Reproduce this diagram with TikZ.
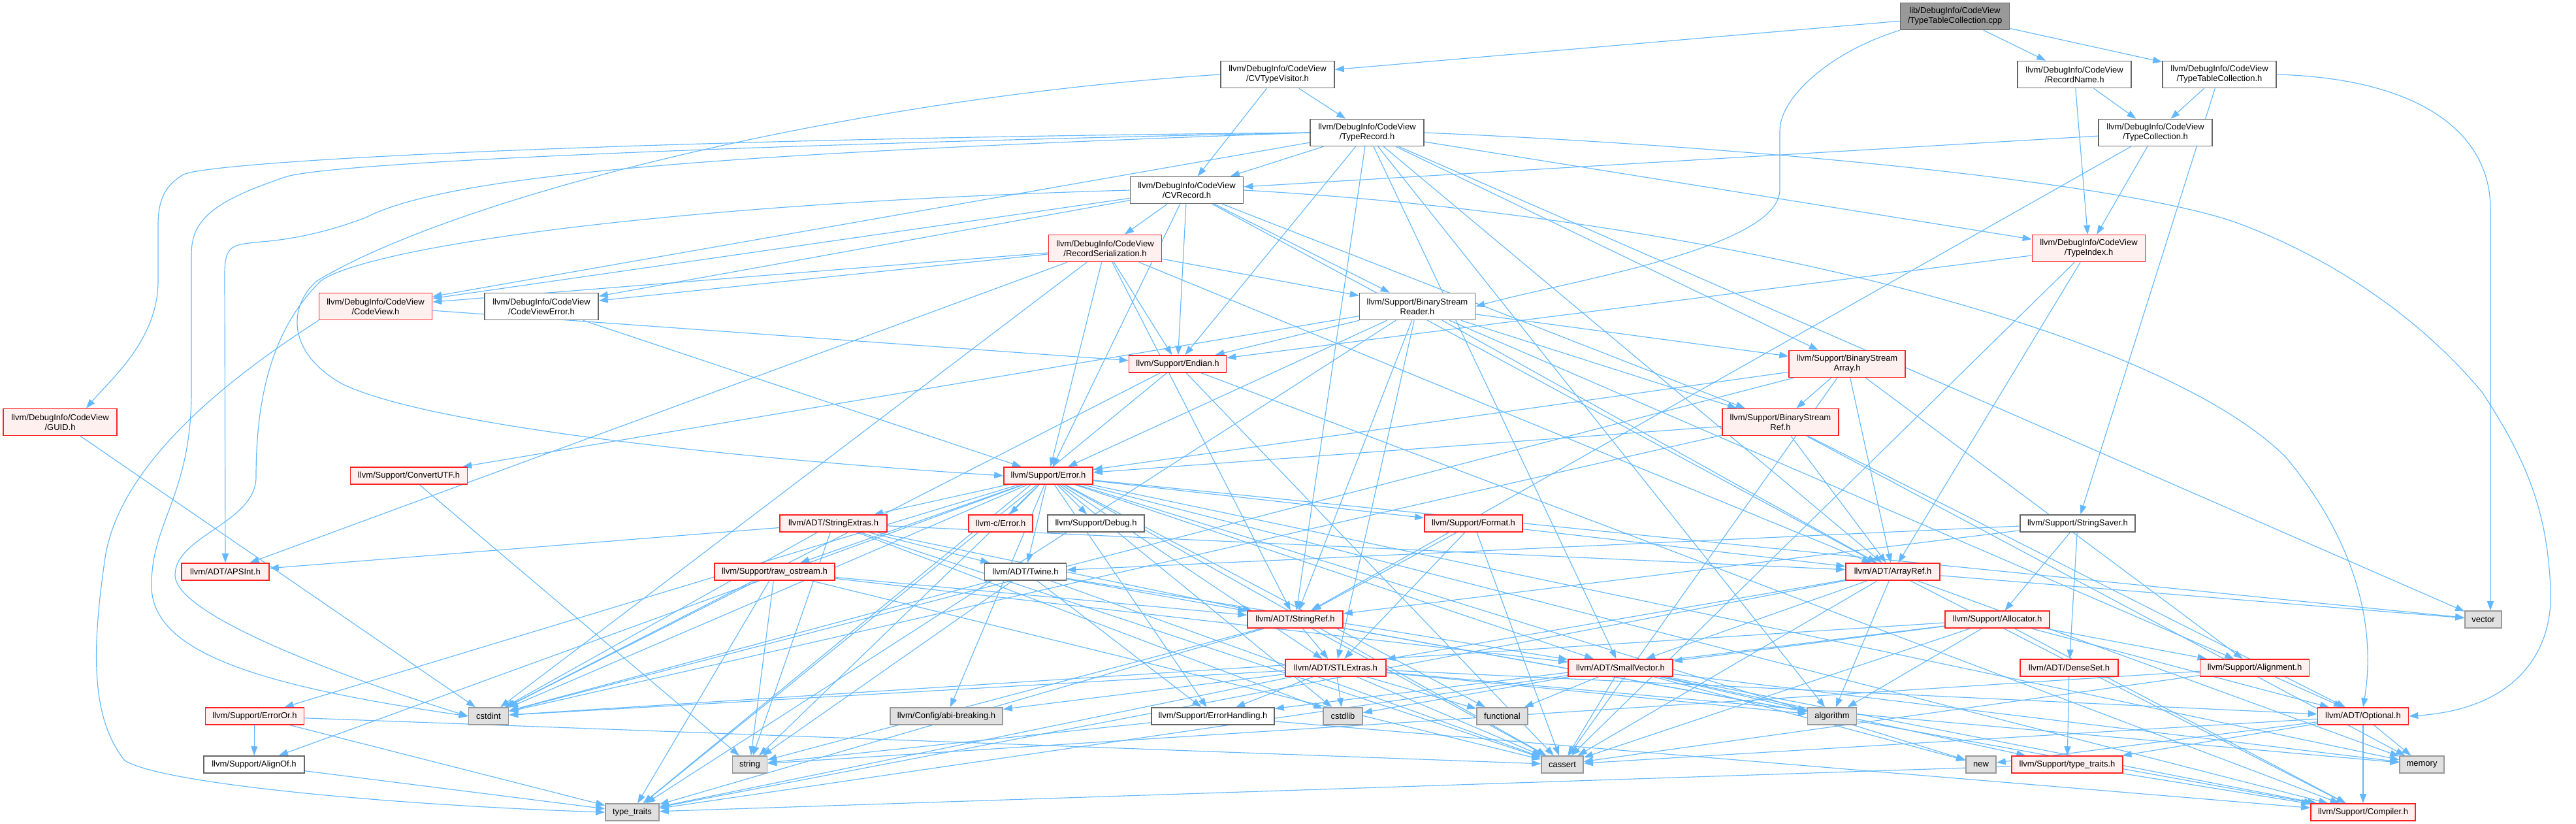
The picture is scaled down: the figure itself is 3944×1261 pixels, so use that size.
\documentclass[tikz,border=0pt]{standalone}
\usepackage{fontspec}
\setmainfont{Liberation Sans}
\usetikzlibrary{arrows.meta}
\pgfdeclarelayer{bg}
\pgfsetlayers{bg,main}
\definecolor{edgec}{HTML}{63B8FF}
\definecolor{redb}{HTML}{FF2020}
\definecolor{redf}{HTML}{FFF0F0}
\definecolor{plainb}{HTML}{666666}
\definecolor{sysf}{HTML}{E0E0E0}
\definecolor{sysb}{HTML}{999999}
\definecolor{topf}{HTML}{999999}
\begin{document}
\begin{tikzpicture}[x=1pt,y=1pt,
 box/.style={draw, line width=1.6pt, inner sep=0pt, align=center, font=\fontsize{13}{15}\selectfont, text=black, minimum height=26},
 two/.style={minimum height=41},
 plain/.style={box, draw=plainb, fill=white},
 trunc/.style={box, draw=redb, fill=redf},
 sys/.style={box, draw=sysb, fill=sysf},
 topn/.style={box, draw=plainb, fill=topf},
 e/.style={draw=edgec, line width=1.15pt, -{Triangle[length=14pt,width=10pt]}}
]
\useasboundingbox (0,0) rectangle (3944,-1261);
% rank 0
\node[topn,two,minimum width=167] (top) at (2993,-25) {lib/DebugInfo/CodeView\\/TypeTableCollection.cpp};
% rank 1
\node[plain,two,minimum width=174] (cvtv) at (1956,-114) {llvm/DebugInfo/CodeView\\/CVTypeVisitor.h};
\node[plain,two,minimum width=174] (rname) at (3176,-114) {llvm/DebugInfo/CodeView\\/RecordName.h};
\node[plain,two,minimum width=174] (ttch) at (3398,-114) {llvm/DebugInfo/CodeView\\/TypeTableCollection.h};
% rank 2
\node[plain,two,minimum width=174] (trec) at (2093,-203) {llvm/DebugInfo/CodeView\\/TypeRecord.h};
\node[plain,two,minimum width=174] (tcol) at (3300,-203) {llvm/DebugInfo/CodeView\\/TypeCollection.h};
% rank 3
\node[plain,two,minimum width=173] (cvrec) at (1817,-291) {llvm/DebugInfo/CodeView\\/CVRecord.h};
% rank 4
\node[trunc,two,minimum width=173] (rser) at (1692,-380) {llvm/DebugInfo/CodeView\\/RecordSerialization.h};
\node[trunc,two,minimum width=173] (tidx) at (3198,-380) {llvm/DebugInfo/CodeView\\/TypeIndex.h};
% rank 5
\node[trunc,two,minimum width=173] (cv) at (575,-469) {llvm/DebugInfo/CodeView\\/CodeView.h};
\node[plain,two,minimum width=174] (cverr) at (829,-469) {llvm/DebugInfo/CodeView\\/CodeViewError.h};
\node[plain,two,minimum width=177] (bsr) at (2170,-469) {llvm/Support/BinaryStream\\Reader.h};
% rank 6
\node[trunc,minimum width=149] (endian) at (1803,-557) {llvm/Support/Endian.h};
\node[trunc,two,minimum width=178] (bsa) at (2828,-557) {llvm/Support/BinaryStream\\Array.h};
% rank 7
\node[trunc,two,minimum width=174] (guid) at (92,-646) {llvm/DebugInfo/CodeView\\/GUID.h};
\node[trunc,two,minimum width=178] (bsref) at (2726,-646) {llvm/Support/BinaryStream\\Ref.h};
% rank 8
\node[trunc,minimum width=179] (cutf) at (626,-728) {llvm/Support/ConvertUTF.h};
\node[trunc,minimum width=136] (err) at (1605,-728) {llvm/Support/Error.h};
% rank 9
\node[trunc,minimum width=164] (sext) at (1276,-801) {llvm/ADT/StringExtras.h};
\node[trunc,minimum width=98] (cerr) at (1532,-801) {llvm-c/Error.h};
\node[plain,minimum width=148] (dbg) at (1678,-801) {llvm/Support/Debug.h};
\node[trunc,minimum width=150] (fmt) at (2256,-801) {llvm/Support/Format.h};
\node[plain,minimum width=176] (ssav) at (3181,-801) {llvm/Support/StringSaver.h};
% rank 10
\node[trunc,minimum width=134] (apsint) at (345,-875) {llvm/ADT/APSInt.h};
\node[trunc,minimum width=184] (rawos) at (1186,-875) {llvm/Support/raw\_ostream.h};
\node[plain,minimum width=125] (twine) at (1570,-875) {llvm/ADT/Twine.h};
\node[trunc,minimum width=144] (aref) at (2898,-875) {llvm/ADT/ArrayRef.h};
% rank 11
\node[trunc,minimum width=146] (sref) at (1983,-948) {llvm/ADT/StringRef.h};
\node[trunc,minimum width=160] (alloc) at (3058,-948) {llvm/Support/Allocator.h};
\node[sys,minimum width=56] (vector) at (3802,-948) {vector};
% rank 12
\node[trunc,minimum width=154] (stlx) at (2045,-1022) {llvm/ADT/STLExtras.h};
\node[trunc,minimum width=160] (svec) at (2481,-1022) {llvm/ADT/SmallVector.h};
\node[trunc,minimum width=150] (dset) at (3168,-1022) {llvm/ADT/DenseSet.h};
\node[trunc,minimum width=167] (align) at (3452,-1022) {llvm/Support/Alignment.h};
% rank 13
\node[sys,minimum width=61] (cstdint) at (748,-1096) {cstdint};
\node[trunc,minimum width=151] (erroror) at (390,-1096) {llvm/Support/ErrorOr.h};
\node[sys,minimum width=172] (abi) at (1449,-1096) {llvm/Config/abi-breaking.h};
\node[plain,minimum width=188] (errh) at (1857,-1096) {llvm/Support/ErrorHandling.h};
\node[sys,minimum width=60] (cstdlib) at (2056,-1096) {cstdlib};
\node[sys,minimum width=78] (func) at (2300,-1096) {functional};
\node[sys,minimum width=75] (algo) at (2805,-1096) {algorithm};
\node[trunc,minimum width=139] (opt) at (3618,-1096) {llvm/ADT/Optional.h};
% rank 14
\node[plain,minimum width=154] (alignof) at (389,-1170) {llvm/Support/AlignOf.h};
\node[sys,minimum width=53] (string) at (1148,-1170) {string};
\node[sys,minimum width=64] (cassert) at (2392,-1170) {cassert};
\node[sys,minimum width=46] (new) at (3033,-1170) {new};
\node[trunc,minimum width=170] (stt) at (3165,-1170) {llvm/Support/type\_traits.h};
\node[sys,minimum width=68] (memory) at (3708,-1170) {memory};
% rank 15
\node[sys,minimum width=82] (tt) at (968,-1243) {type\_traits};
\node[trunc,minimum width=160] (comp) at (3618,-1243) {llvm/Support/Compiler.h};

\begin{pgfonlayer}{bg}
\foreach \s/\t in {top/cvtv,top/rname,top/ttch,
 cvtv/cvrec,cvtv/trec,
 rname/tcol,rname/tidx,
 ttch/tcol,ttch/ssav,
 tcol/cvrec,tcol/tidx,tcol/sref,
 trec/aref,trec/svec,trec/sref,trec/cvrec,trec/cv,trec/tidx,trec/bsa,trec/endian,trec/algo,trec/vector,
 cvrec/aref,cvrec/cv,cvrec/cverr,cvrec/rser,cvrec/bsr,cvrec/bsref,cvrec/endian,cvrec/err,
 rser/apsint,rser/aref,rser/sref,rser/cv,rser/cverr,rser/bsr,rser/endian,rser/err,rser/cstdint,
 tidx/aref,tidx/endian,tidx/cassert,
 cv/endian,
 cverr/err,
 bsr/aref,bsr/stlx,bsr/sref,bsr/align,bsr/bsa,bsr/bsref,bsr/cutf,bsr/endian,bsr/err,bsr/tt,
 bsa/aref,bsa/align,bsa/bsref,bsa/err,bsa/cassert,bsa/cstdint,
 bsref/aref,bsref/opt,bsref/err,bsref/cstdint,bsref/memory,
 endian/comp,endian/cassert,endian/cstdint,endian/tt,
 guid/cstdint,
 cutf/string,
 err/cerr,err/stlx,err/svec,err/sext,err/twine,err/abi,err/alignof,err/comp,err/dbg,err/errh,err/erroror,err/fmt,err/rawos,err/cassert,err/cstdint,err/cstdlib,err/func,err/memory,err/new,err/string,err/tt,err/vector,
 sext/apsint,sext/aref,sext/sref,sext/twine,sext/cassert,sext/cstdint,sext/cstdlib,sext/string,
 fmt/aref,fmt/stlx,fmt/sref,fmt/cassert,
 ssav/dset,ssav/sref,ssav/twine,ssav/alloc,
 rawos/svec,rawos/sref,rawos/cassert,rawos/cstdint,rawos/string,rawos/tt,
 twine/svec,twine/sref,twine/errh,twine/cassert,twine/cstdint,twine/string,
 aref/svec,aref/stlx,aref/comp,aref/algo,aref/cassert,aref/memory,aref/tt,aref/vector,
 sref/stlx,sref/comp,sref/algo,sref/cassert,sref/string,sref/tt,
 alloc/opt,alloc/svec,alloc/align,alloc/comp,alloc/errh,alloc/algo,alloc/cassert,alloc/cstdint,
 stlx/opt,stlx/abi,stlx/errh,stlx/algo,stlx/cassert,stlx/cstdint,stlx/cstdlib,stlx/func,stlx/memory,stlx/tt,
 svec/comp,svec/stt,svec/algo,svec/cassert,svec/cstdlib,svec/func,svec/memory,svec/new,svec/tt,
 dset/stt,
 align/opt,align/cassert,align/string,
 erroror/alignof,erroror/cassert,erroror/tt,
 alignof/tt,
 errh/comp,errh/string,
 opt/comp,opt/stt,opt/cassert,opt/new,opt/memory,
 stt/comp,stt/tt}
 \draw[e] (\s) -- (\t);
% routed edges
\draw[e] (trec.west) .. controls (1000,-212) and (330,-245) .. (281,-267) .. controls (250,-285) and (242,-310) .. (242,-345) -- (242,-430) .. controls (242,-520) and (170,-580) .. ([xshift=40pt]guid.north);
\draw[e] (trec.west) .. controls (1100,-222) and (480,-250) .. (434,-272) .. controls (320,-310) and (293,-340) .. (293,-390) -- (293,-600) .. controls (293,-760) and (230,-800) .. (232,-900) .. controls (236,-1000) and (400,-1050) .. (cstdint.west);
\draw[e] (trec.west) .. controls (1200,-232) and (700,-260) .. (560,-333) .. controls (380,-400) and (344,-340) .. (344,-420) -- (apsint.north);
\draw[e] (cvtv.west) .. controls (1300,-150) and (700,-300) .. (485,-430) .. controls (440,-470) and (440,-540) .. (523,-587) .. controls (650,-650) and (1100,-700) .. (err.west);
\draw[e] (cvrec.west) .. controls (1000,-312) and (560,-380) .. (491,-430) .. controls (420,-500) and (392,-600) .. (392,-730) .. controls (392,-800) and (268,-820) .. (268,-880) .. controls (268,-950) and (600,-1060) .. (cstdint.west);
\draw[e] (cv.south west) .. controls (380,-560) and (180,-700) .. (160,-860) .. controls (140,-1000) and (140,-1100) .. (191,-1164) .. controls (250,-1200) and (600,-1232) .. (tt.west);
\draw[e] (ttch.east) .. controls (3700,-120) and (3813,-200) .. (3813,-320) -- (3813,-850) .. controls (3813,-900) .. ([xshift=11pt]vector.north);
\draw[e] (top.south west) .. controls (2800,-80) and (2725,-150) .. (2725,-200) -- (2725,-290) .. controls (2725,-380) and (2400,-430) .. (bsr.east);
\draw[e] (trec.east) .. controls (2700,-225) and (3250,-280) .. (3422,-340) .. controls (3560,-390) and (3700,-480) .. (3800,-600) .. controls (3880,-720) and (3900,-800) .. (3905,-900) .. controls (3910,-1000) and (3850,-1085) .. (opt.east);
\draw[e] (cvrec.east) .. controls (2600,-330) and (3300,-500) .. (3500,-700) .. controls (3600,-820) and (3640,-950) .. (opt.north);
\end{pgfonlayer}
\end{tikzpicture}
\end{document}
